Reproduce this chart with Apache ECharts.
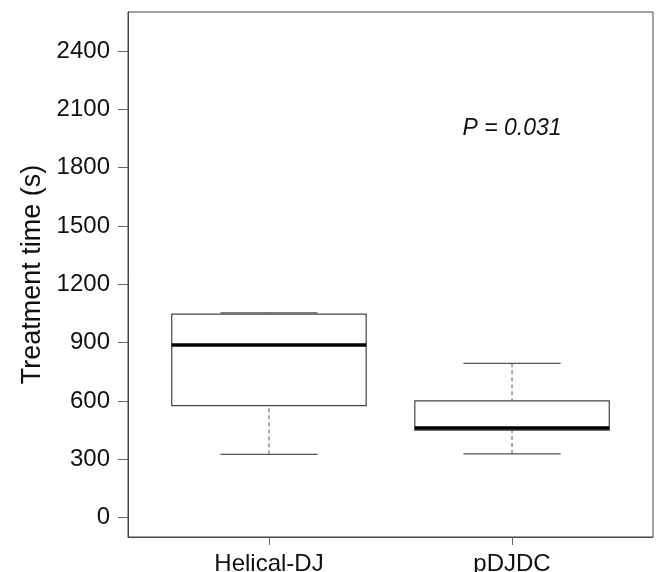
<!DOCTYPE html>
<html>
<head>
<meta charset="utf-8">
<script src="https://cdn.jsdelivr.net/npm/echarts@6/dist/echarts.min.js"></script>
<style>html,body{margin:0;padding:0;background:#fff}#c{width:657px;height:572px}</style>
</head>
<body>
<div id="c"></div>
<script>
var categories = ['Helical-DJ', 'pDJDC'];
var lowerWhisker = [325, 327];
var q1 = [576, 450];
var median = [887, 461];
var q3 = [1046, 600];
var upperWhisker = [1053, 793];
var outliers = [[1, 2313]];
var yTicks = [0, 300, 600, 900, 1200, 1500, 1800, 2100, 2400];
var annotation = { x: 2, y: 2000, text: 'P = 0.031' };

var boxData = categories.map(function (c, i) {
  return [i + 1, lowerWhisker[i], q1[i], median[i], q3[i], upperWhisker[i]];
});

var chart = echarts.init(document.getElementById('c'));
var FONT = 'Liberation Sans, Arial, sans-serif';
var EDGE = '#444';

function renderBox(params, api) {
  var x = api.value(0);
  var lo = api.value(1), b1 = api.value(2), md = api.value(3), b3 = api.value(4), hi = api.value(5);
  var hw = 0.4, cw = 0.2;
  var pTL = api.coord([x - hw, b3]), pBR = api.coord([x + hw, b1]);
  var pMl = api.coord([x - hw, md]), pMr = api.coord([x + hw, md]);
  var pHi = api.coord([x, hi]), pB3 = api.coord([x, b3]);
  var pLo = api.coord([x, lo]), pB1 = api.coord([x, b1]);
  var cHl = api.coord([x - cw, hi]), cHr = api.coord([x + cw, hi]);
  var cLl = api.coord([x - cw, lo]), cLr = api.coord([x + cw, lo]);
  var dash = { stroke: '#555', lineWidth: 1, lineDash: [4, 3] };
  var solid = { stroke: '#555', lineWidth: 1.2 };
  return {
    type: 'group',
    children: [
      { type: 'line', shape: { x1: pHi[0], y1: pHi[1], x2: pB3[0], y2: pB3[1] }, style: dash },
      { type: 'line', shape: { x1: pLo[0], y1: pLo[1], x2: pB1[0], y2: pB1[1] }, style: dash },
      { type: 'line', shape: { x1: cHl[0], y1: cHl[1], x2: cHr[0], y2: cHr[1] }, style: solid },
      { type: 'line', shape: { x1: cLl[0], y1: cLl[1], x2: cLr[0], y2: cLr[1] }, style: solid },
      { type: 'rect', shape: { x: pTL[0], y: pTL[1], width: pBR[0] - pTL[0], height: pBR[1] - pTL[1] },
        style: { fill: '#fff', stroke: EDGE, lineWidth: 1.2 } },
      { type: 'line', shape: { x1: pMl[0], y1: pMl[1], x2: pMr[0], y2: pMr[1] },
        style: { stroke: '#000', lineWidth: 3.5 } }
    ]
  };
}

function renderText(params, api) {
  var p = api.coord([api.value(0), api.value(1)]);
  return {
    type: 'text',
    x: p[0], y: p[1],
    style: { text: annotation.text, font: 'italic 23px ' + FONT, fill: '#111', align: 'center', verticalAlign: 'middle' }
  };
}

chart.setOption({
  animation: false,
  backgroundColor: '#fff',
  grid: { left: 128, right: 4, top: 12, bottom: 35, show: true, borderColor: EDGE, borderWidth: 1,
    containLabel: false, outerBoundsMode: 'none' },
  xAxis: {
    type: 'value', min: 0.42, max: 2.58,
    splitLine: { show: false },
    axisLine: { show: true, onZero: false, lineStyle: { color: EDGE } },
    axisTick: { show: true, length: 8, customValues: [1, 2], lineStyle: { color: '#666' } },
    axisLabel: {
      customValues: [1, 2], margin: 15, fontSize: 24, fontFamily: FONT, color: '#111',
      formatter: function (v) { return categories[Math.round(v) - 1] || ''; }
    }
  },
  yAxis: {
    type: 'value', min: -100, max: 2600,
    name: 'Treatment time (s)', nameLocation: 'middle', nameGap: 82,
    nameTextStyle: { fontSize: 27, fontFamily: FONT, color: '#111' },
    splitLine: { show: false },
    axisLine: { show: true, onZero: false, lineStyle: { color: EDGE } },
    axisTick: { show: true, length: 10, customValues: yTicks, lineStyle: { color: '#666' } },
    axisLabel: { customValues: yTicks, margin: 18, fontSize: 24, fontFamily: FONT, color: '#111',
      formatter: function (v) { return String(v); } }
  },
  series: [
    { type: 'custom', data: boxData, renderItem: renderBox, encode: { x: 0, y: [1, 2, 3, 4, 5] }, silent: true },
    { type: 'scatter', data: outliers, symbol: 'emptyCircle', symbolSize: 8,
      itemStyle: { color: '#fff', borderColor: '#444', borderWidth: 1.3 }, silent: true },
    { type: 'custom', data: [[annotation.x, annotation.y]], renderItem: renderText, silent: true }
  ]
});
</script>
</body>
</html>
